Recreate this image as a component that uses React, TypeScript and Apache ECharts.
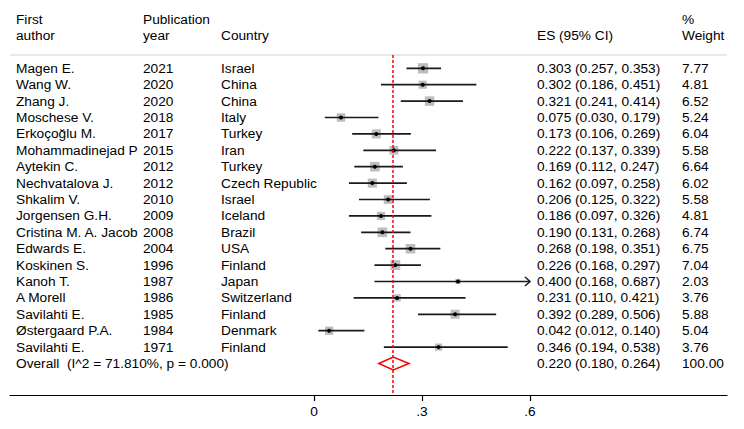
import React, { useEffect, useRef } from "react";
import * as echarts from "echarts";

const authors = [
  "Magen E.", "Wang W.", "Zhang J.", "Moschese V.", "Erkoçoğlu M.", "Mohammadinejad P",
  "Aytekin C.", "Nechvatalova J.", "Shkalim V.", "Jorgensen G.H.", "Cristina M. A. Jacob",
  "Edwards E.", "Koskinen S.", "Kanoh T.", "A Morell", "Savilahti E.", "Østergaard P.A.", "Savilahti E.",
];
const years = [2021, 2020, 2020, 2018, 2017, 2015, 2012, 2012, 2010, 2009, 2008, 2004, 1996, 1987, 1986, 1985, 1984, 1971];
const countries = [
  "Israel", "China", "China", "Italy", "Turkey", "Iran", "Turkey", "Czech Republic", "Israel",
  "Iceland", "Brazil", "USA", "Finland", "Japan", "Switzerland", "Finland", "Denmark", "Finland",
];
const es = [0.303, 0.302, 0.321, 0.075, 0.173, 0.222, 0.169, 0.162, 0.206, 0.186, 0.190, 0.268, 0.226, 0.400, 0.231, 0.392, 0.042, 0.346];
const lo = [0.257, 0.186, 0.241, 0.030, 0.106, 0.137, 0.112, 0.097, 0.125, 0.097, 0.131, 0.198, 0.168, 0.168, 0.110, 0.289, 0.012, 0.194];
const hi = [0.353, 0.451, 0.414, 0.179, 0.269, 0.339, 0.247, 0.258, 0.322, 0.326, 0.268, 0.351, 0.297, 0.687, 0.421, 0.506, 0.140, 0.538];
const weights = [7.77, 4.81, 6.52, 5.24, 6.04, 5.58, 6.64, 6.02, 5.58, 4.81, 6.74, 6.75, 7.04, 2.03, 3.76, 5.88, 5.04, 3.76];

const overallLabel = "Overall  (I^2 = 71.810%, p = 0.000)";
const overallES = 0.220;
const overallLo = 0.180;
const overallHi = 0.264;
const overallWeight = 100.0;

const xTicks = [0, 0.3, 0.6];
const tickLabels = ["0", ".3", ".6"];

const headerAuthor = ["First", "author"];
const headerYear = ["Publication", "year"];
const headerCountry = "Country";
const headerES = "ES (95% CI)";
const headerWeight = ["%", "Weight"];

const FONT = "Liberation Sans, Arial, Helvetica, sans-serif";
const FS = 13.7;

export default function App() {
  const ref = useRef<HTMLDivElement>(null);
  useEffect(() => {
    if (!ref.current) return;
    const chart = echarts.init(ref.current, undefined, { renderer: "svg" });

    const colAuthor = 16;
    const colYear = 143;
    const colCountry = 221;
    const colES = 537;
    const colWeight = 682;
    const clipMax = Math.max(...xTicks);

    const data: number[][] = es.map((v, i) => [i, v, lo[i], hi[i], weights[i], 0]);
    data.push([es.length, overallES, overallLo, overallHi, overallWeight, 1]);

    const txt = (s: string, x: number, y: number) => ({
      type: "text",
      x,
      y,
      style: { text: s, fill: "#000", fontSize: FS, fontFamily: FONT, align: "left", verticalAlign: "middle" },
    });

    const renderItem = (params: any, api: any) => {
      const i = params.dataIndex;
      const row = api.value(0);
      const est = api.value(1);
      const l = api.value(2);
      const h = api.value(3);
      const w = api.value(4);
      const isOverall = api.value(5) === 1;
      const pEst = api.coord([est, row]);
      const pLo = api.coord([l, row]);
      const hClip = Math.min(h, clipMax);
      const pHi = api.coord([hClip, row]);
      const y = pEst[1];
      const children: any[] = [];
      const esText = `${est.toFixed(3)} (${l.toFixed(3)}, ${h.toFixed(3)})`;
      if (isOverall) {
        children.push({
          type: "polygon",
          shape: { points: [[pLo[0], y], [pEst[0], y - 6.5], [pHi[0], y], [pEst[0], y + 6.5]] },
          style: { fill: "none", stroke: "#ff0000", lineWidth: 1.5 },
        });
        children.push(txt(overallLabel, colAuthor, y));
      } else {
        const s = 3.7 * Math.sqrt(w);
        children.push({
          type: "rect",
          shape: { x: pEst[0] - s / 2, y: y - s / 2, width: s, height: s },
          style: { fill: "#bdbdbd" },
        });
        children.push({
          type: "line",
          shape: { x1: pLo[0], y1: y, x2: pHi[0], y2: y },
          style: { stroke: "#1a1a1a", lineWidth: 1.7 },
        });
        if (h > clipMax) {
          children.push({
            type: "polyline",
            shape: { points: [[pHi[0] - 5, y - 4.5], [pHi[0], y], [pHi[0] - 5, y + 4.5]] },
            style: { stroke: "#1a1a1a", lineWidth: 1.5, fill: "none" },
          });
        }
        children.push({
          type: "circle",
          shape: { cx: pEst[0], cy: y, r: 2 },
          style: { fill: "#000" },
        });
        children.push(txt(authors[i], colAuthor, y));
        children.push(txt(String(years[i]), colYear, y));
        children.push(txt(countries[i], colCountry, y));
      }
      children.push(txt(esText, colES, y));
      children.push(txt(w.toFixed(2), colWeight, y));
      return { type: "group", children };
    };

    const gLeft = 10;
    const gRight = 17;
    const zeroPx = 314;
    const pxPerUnit = 360;
    const xMin = -(zeroPx - gLeft) / pxPerUnit;
    const xMax = (744 - gRight - zeroPx) / pxPerUnit;

    const headerText = (s: string, x: number, y: number) => ({
      type: "text",
      left: x,
      top: y - 8,
      style: { text: s, fill: "#000", fontSize: FS, fontFamily: FONT },
    });

    chart.setOption({
      animation: false,
      grid: { left: gLeft, right: gRight, top: 55, bottom: 34 },
      xAxis: {
        type: "value",
        min: xMin,
        max: xMax,
        splitLine: { show: false },
        axisLine: { show: true, onZero: false, lineStyle: { color: "#000", width: 1.2 } },
        axisTick: { show: true, length: 6, customValues: xTicks, lineStyle: { color: "#000", width: 1.2 } },
        axisLabel: {
          customValues: xTicks,
          margin: 9,
          color: "#000",
          fontSize: FS,
          fontFamily: FONT,
          formatter: (v: number) => {
            const k = xTicks.findIndex((t) => Math.abs(t - v) < 1e-9);
            return k >= 0 ? tickLabels[k] : "";
          },
        },
      },
      yAxis: {
        type: "value",
        min: -0.811,
        max: 19.92,
        inverse: true,
        show: false,
      },
      graphic: [
        headerText(headerAuthor[0], colAuthor, 20),
        headerText(headerAuthor[1], colAuthor, 36),
        headerText(headerYear[0], colYear, 20),
        headerText(headerYear[1], colYear, 36),
        headerText(headerCountry, colCountry, 36),
        headerText(headerES, colES, 36),
        headerText(headerWeight[0], colWeight, 20),
        headerText(headerWeight[1], colWeight, 36),
        {
          type: "line",
          shape: { x1: gLeft, y1: 55, x2: 744 - gRight, y2: 55 },
          style: { stroke: "#d4d4d4", lineWidth: 1.2 },
        },
      ],
      series: [
        {
          type: "custom",
          clip: false,
          renderItem,
          encode: { x: [1, 2, 3], y: 0 },
          data,
          markLine: {
            silent: true,
            symbol: "none",
            label: { show: false },
            lineStyle: { color: "#ff0000", type: [3, 2], width: 1.5 },
            data: [{ xAxis: overallES }],
          },
        },
      ],
    });
    return () => chart.dispose();
  }, []);
  return <div ref={ref} style={{ width: 744, height: 429, position: "absolute", left: 0, top: 0 }} />;
}
